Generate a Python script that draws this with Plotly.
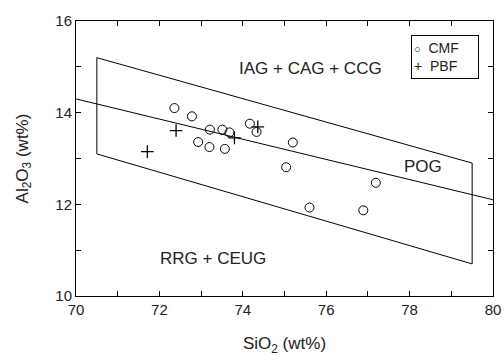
import plotly.graph_objects as go

# CMF samples
cmf_sio2 = [72.36, 72.78, 73.21, 73.51, 73.68, 72.93, 73.20, 73.57, 74.17, 74.33, 75.20, 75.04, 75.60, 76.89, 77.19]
cmf_al2o3 = [14.10, 13.92, 13.63, 13.63, 13.57, 13.36, 13.25, 13.21, 13.76, 13.58, 13.35, 12.81, 11.93, 11.87, 12.47]
# PBF samples
pbf_sio2 = [72.40, 71.71, 73.80, 74.36]
pbf_al2o3 = [13.61, 13.15, 13.45, 13.69]

# Field boundaries
box_x = [70.5, 79.5, 79.5, 70.5, 70.5]
box_y = [15.2, 12.9, 10.7, 13.1, 15.2]
pog_x = [70.0, 80.0]
pog_y = [14.3, 12.1]

field_labels = ["IAG + CAG + CCG", "POG", "RRG + CEUG"]
label_x = [75.63, 78.33, 73.29]
label_y = [14.96, 12.82, 10.82]

x_ticks = [70, 72, 74, 76, 78, 80]
y_ticks = [10, 12, 14, 16]

FONT = "Liberation Sans, Arial, sans-serif"

fig = go.Figure()
fig.add_trace(go.Scatter(x=box_x, y=box_y, mode="lines", line=dict(color="black", width=1),
                         showlegend=False, hoverinfo="skip"))
fig.add_trace(go.Scatter(x=pog_x, y=pog_y, mode="lines", line=dict(color="black", width=1),
                         showlegend=False, hoverinfo="skip"))
fig.add_trace(go.Scatter(x=cmf_sio2, y=cmf_al2o3, mode="markers", name="CMF", showlegend=False,
                         marker=dict(symbol="circle-open", size=9, color="black", line=dict(width=1))))
fig.add_trace(go.Scatter(x=pbf_sio2, y=pbf_al2o3, mode="markers", name="PBF", showlegend=False,
                         marker=dict(symbol="cross-thin-open", size=9, color="black", line=dict(width=1.3, color="black"))))

for t, lx, ly in zip(field_labels, label_x, label_y):
    fig.add_annotation(x=lx, y=ly, text=t, showarrow=False,
                       font=dict(family=FONT, size=17, color="#222"))

# legend box
fig.add_annotation(xref="paper", yref="paper", x=0.803, y=0.949, xanchor="left", yanchor="top",
                   text="<span style='font-size:11px'>○</span>  CMF<br>+  PBF", align="left", showarrow=False,
                   width=62, height=38, valign="middle",
                   bordercolor="black", borderwidth=1, borderpad=2, bgcolor="white",
                   font=dict(family=FONT, size=14, color="#222"))

axis_common = dict(showgrid=False, zeroline=False, showline=True, linecolor="black", linewidth=1,
                   mirror="ticks", ticks="inside", ticklen=5, tickcolor="black", automargin=False,
                   tickfont=dict(family=FONT, size=15, color="#222"))

fig.update_xaxes(range=[70, 80], tickvals=x_ticks,
                 minor=dict(dtick=1, ticks="inside", ticklen=5, tickcolor="black"),
                 title=dict(text="SiO<sub>2</sub> (wt%)", font=dict(family=FONT, size=17, color="#222"), standoff=21),
                 **axis_common)
fig.update_yaxes(range=[10, 16], tickvals=y_ticks,
                 minor=dict(dtick=1, ticks="inside", ticklen=5, tickcolor="black"),
                 title=dict(text="Al<sub>2</sub>O<sub>3</sub> (wt%)", font=dict(family=FONT, size=17, color="#222"), standoff=22),
                 **axis_common)

fig.update_layout(
    width=504, height=356,
    margin=dict(l=76, r=11, t=21, b=60),
    plot_bgcolor="white", paper_bgcolor="white",
    showlegend=False,
)

fig.write_html("out.html")
